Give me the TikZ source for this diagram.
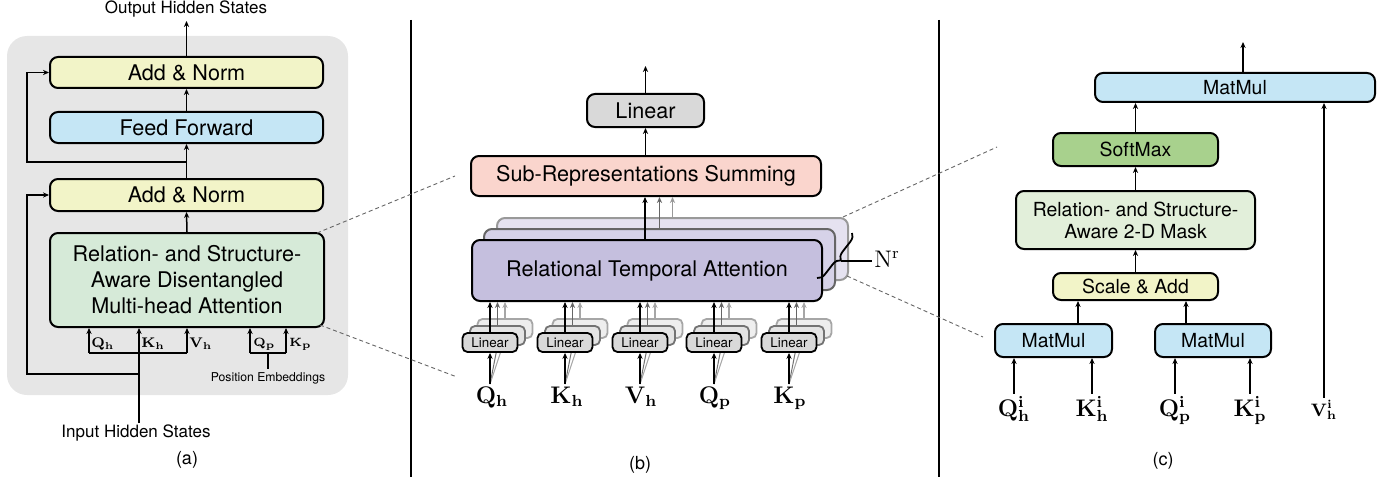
\documentclass[tikz,border=0pt]{standalone}
\usepackage[no-math]{fontspec}
\setmainfont{TeX Gyre Heros}
\usetikzlibrary{arrows.meta,decorations.pathreplacing,calc}
\pgfdeclarelayer{bg}
\pgfsetlayers{bg,main}
\definecolor{bggray}{RGB}{230,230,230}
\definecolor{cyellow}{RGB}{242,244,200}
\definecolor{cblue}{RGB}{197,230,245}
\definecolor{cgreen}{RGB}{214,234,216}
\definecolor{cgray}{RGB}{217,217,217}
\definecolor{cpink}{RGB}{250,213,205}
\definecolor{clav}{RGB}{197,191,222}
\definecolor{csoft}{RGB}{168,209,141}
\definecolor{cmask}{RGB}{226,239,218}
\tikzset{
  bx/.style={draw=black, line width=1pt, rounded corners=4pt, inner sep=0pt, align=center},
  sbx/.style={draw=black, line width=0.9pt, rounded corners=2.5pt, inner sep=0pt,
    minimum width=27.5pt, minimum height=9.5pt, font=\fontsize{6.7}{8}\selectfont},
  arr/.style={-{Stealth[length=3pt,width=2.6pt]}, line width=0.75pt},
  ln/.style={line width=0.75pt},
  dsh/.style={black!60, line width=0.45pt, dash pattern=on 2pt off 1.5pt},
  bigf/.style={font=\fontsize{10.8}{13}\selectfont},
  midf/.style={font=\fontsize{9.7}{11}\selectfont},
  captxt/.style={font=\fontsize{8.5}{10}\selectfont},
  tinylab/.style={font=\fontsize{7}{8}\selectfont, inner sep=0pt, anchor=base west},
  lab/.style={font=\fontsize{12}{14}\selectfont, inner sep=1pt, anchor=base},
  divider/.style={line width=1.2pt},
}
% style, name, x1, y1, x2, y2 (pixels), text
\newcommand\mkbox[7]{\node[#1, minimum width={(#5-#3)*0.5pt}, minimum height={(#6-#4)*0.5pt}] (#2) at ({(#3+#5)/2},{(#4+#6)/2}) {#7};}
\begin{document}
\begin{tikzpicture}[x=0.5pt,y=-0.5pt]
\useasboundingbox (0,0) rectangle (1396,481);

% ---------------- panel (a)
\mkbox{fill=bggray, rounded corners=10pt, inner sep=0pt}{bga}{7}{36}{348}{395}{}
\mkbox{bx, fill=cyellow, bigf}{an2}{50}{57}{323}{88}{Add \& Norm}
\mkbox{bx, fill=cblue, bigf}{ff}{50}{112}{323}{143}{Feed Forward}
\mkbox{bx, fill=cyellow, bigf}{an1}{50}{179}{323}{211}{Add \& Norm}
\mkbox{bx, fill=cgreen, bigf}{att}{50}{233}{324}{327}{Relation- and Structure-\\Aware Disentangled\\Multi-head Attention}

\node[captxt] (outt) at (186,9) {Output Hidden States};
\coordinate (outa) at (186.5,21);
\draw[arr] (an2.north) -- (outa);
\draw[arr] (ff.north) -- (an2.south);
\draw[arr] (an1.north) -- (ff.south);
\draw[arr] (att.north) -- (an1.south);

\coordinate (r1) at (186.5,162);
\draw[arr] (r1) -- (27,162) |- (an2.west);
\coordinate (r2) at (139,374);
\draw[arr] (r2) -- (27,374) |- (an1.west);

\node[captxt] (inp) at (136,433) {Input Hidden States};
\coordinate (inb) at (139,423);
\draw[arr] (inb) -- (inb |- att.south);
\coordinate (qa) at (89,353);
\coordinate (va) at (187,353);
\draw[ln] (qa) -- (va);
\draw[arr] (qa) -- (qa |- att.south);
\draw[arr] (va) -- (va |- att.south);

\coordinate (qpa) at (250,353);
\coordinate (kpa) at (286,353);
\coordinate (pst) at (268,353);
\node[font=\fontsize{6.1}{7}\selectfont, inner sep=0pt] (pe) at (268,378) {Position Embeddings};
\draw[ln] (qpa) -- (kpa);
\draw[ln] (pst) -- (268,369);
\draw[arr] (qpa) -- (qpa |- att.south);
\draw[arr] (kpa) -- (kpa |- att.south);

\node[tinylab] (lqa) at (91,347) {$\mathbf{Q}_{\mathbf{h}}$};
\node[tinylab] (lka) at (141,347) {$\mathbf{K}_{\mathbf{h}}$};
\node[tinylab] (lva) at (189,347) {$\mathbf{V}_{\mathbf{h}}$};
\node[tinylab, font=\fontsize{5.6}{7}\selectfont] (lqpa) at (253,346) {$\mathbf{Q}_{\mathbf{p}}$};
\node[tinylab, font=\fontsize{5.6}{7}\selectfont] (lkpa) at (289,346) {$\mathbf{K}_{\mathbf{p}}$};

\node[font=\fontsize{9}{10}\selectfont] (capa) at (187,460) {(a)};

% dividers
\coordinate (dv1t) at (411,20); \coordinate (dv1b) at (411,477);
\coordinate (dv2t) at (939,20); \coordinate (dv2b) at (939,477);
\draw[divider] (dv1t) -- (dv1b);
\draw[divider] (dv2t) -- (dv2b);

% ---------------- panel (b)
\mkbox{bx, fill=cgray, bigf}{lin}{587}{94}{704}{127}{Linear}
\coordinate (outb) at (645.5,66);
\draw[arr] (lin.north) -- (outb);
\mkbox{bx, fill=cpink, bigf}{srs}{471}{156}{821}{196}{Sub-Representations Summing}
\draw[arr] (srs.north -| lin.south) -- (lin.south);

\mkbox{bx, fill=clav!45, draw=black!40}{rta2}{497}{218}{848}{280}{}
\mkbox{bx, fill=clav!70, draw=black!60}{rta1}{484}{229}{835}{290}{}
\mkbox{bx, fill=clav, bigf}{rta}{472}{240}{822}{301}{Relational Temporal Attention}
\draw[arr] (rta.north -| 645,0) -- (srs.south -| 645,0);
\draw[arr, black!60] (rta1.north) -- (rta1.north |- srs.south);
\draw[arr, black!40] (rta2.north) -- (rta2.north |- srs.south);

\draw[line width=0.9pt, decorate, decoration={brace, amplitude=4pt}] (852,233) -- (817,278);
\coordinate (tip) at (841,261);
\node[font=\fontsize{11.5}{13}\selectfont, inner sep=1pt, anchor=west] (nr) at (872,259) {$\mathrm{N}^{\mathrm{r}}$};
\draw[line width=0.9pt] (tip) -- (nr.west |- tip);

\foreach \i/\cx/\lx/\lb in {1/490/492/{\mathbf{Q}_{\mathbf{h}}}, 2/565/567/{\mathbf{K}_{\mathbf{h}}}, 3/640/641/{\mathbf{V}_{\mathbf{h}}}, 4/714/715/{\mathbf{Q}_{\mathbf{p}}}, 5/789/790/{\mathbf{K}_{\mathbf{p}}}}{
  \node[sbx, fill=cgray!45, draw=black!35] (lbC\i) at (\cx+15,328.5) {};
  \node[sbx, fill=cgray!70, draw=black!55] (lbB\i) at (\cx+7.5,335.5) {};
  \node[sbx, fill=cgray] (lbA\i) at (\cx,342.5) {Linear};
  \node[lab] (in\i) at (\lx,403) {$\lb$};
  \draw[arr] (lbA\i.south |- in\i.north) -- (lbA\i.south);
  \begin{pgfonlayer}{bg}
    \draw[black!55, line width=0.5pt] (lbA\i.south |- in\i.north) -- (lbB\i.south);
    \draw[black!35, line width=0.5pt] (lbA\i.south |- in\i.north) -- (lbC\i.south);
  \end{pgfonlayer}
  \draw[arr] (lbA\i.north) -- (lbA\i.north |- rta.south);
  \draw[arr, black!60] (lbB\i.north) -- (lbB\i.north |- rta.south);
  \draw[arr, black!35] (lbC\i.north) -- (lbC\i.north |- rta.south);
}
\node[font=\fontsize{9}{10}\selectfont] (capb) at (640,465) {(b)};

% ---------------- panel (c)
\mkbox{bx, fill=cblue, midf}{mm}{1095}{73}{1375}{102}{MatMul}
\coordinate (outc) at (1243,42);
\draw[arr] (outc |- mm.north) -- (outc);
\mkbox{bx, fill=csoft, midf}{sm}{1053}{133}{1218}{166}{SoftMax}
\mkbox{bx, fill=cmask, midf}{mask}{1016}{191}{1255}{249}{Relation- and Structure-\\Aware 2-D Mask}
\mkbox{bx, fill=cyellow, midf}{sa}{1053}{273}{1218}{300}{Scale \& Add}
\mkbox{bx, fill=cblue, midf}{mml}{995}{324}{1112}{357}{MatMul}
\mkbox{bx, fill=cblue, midf}{mmr}{1155}{324}{1271}{357}{MatMul}
\draw[arr] (sm.north) -- (sm.north |- mm.south);
\draw[arr] (mask.north) -- (sm.south);
\draw[arr] (sa.north) -- (mask.south);
\coordinate (mlt) at (1078,324);
\coordinate (mrt) at (1186,324);
\draw[arr] (mlt) -- (mlt |- sa.south);
\draw[arr] (mrt) -- (mrt |- sa.south);

\node[lab] (qhi) at (1014,416) {$\mathbf{Q}^{\mathbf{i}}_{\mathbf{h}}$};
\node[lab] (khi) at (1092,416) {$\mathbf{K}^{\mathbf{i}}_{\mathbf{h}}$};
\node[lab] (qpi) at (1175,416) {$\mathbf{Q}^{\mathbf{i}}_{\mathbf{p}}$};
\node[lab] (kpi) at (1250,416) {$\mathbf{K}^{\mathbf{i}}_{\mathbf{p}}$};
\node[lab, font=\fontsize{9}{10}\selectfont] (vhi) at (1324,416) {$\mathbf{V}^{\mathbf{i}}_{\mathbf{h}}$};
\draw[arr] (qhi.north) -- (qhi.north |- mml.south);
\draw[arr] (khi.north) -- (khi.north |- mml.south);
\draw[arr] (qpi.north) -- (qpi.north |- mmr.south);
\draw[arr] (kpi.north) -- (kpi.north |- mmr.south);
\draw[arr] (vhi.north) -- (vhi.north |- mm.south);
\node[font=\fontsize{9}{10}\selectfont] (capc) at (1163,461) {(c)};

% ---------------- zoom guides
\coordinate (g1a) at (317,233); \coordinate (g1b) at (455,176);
\coordinate (g2a) at (320,325); \coordinate (g2b) at (457,377);
\coordinate (g3a) at (843,217); \coordinate (g3b) at (997,147);
\coordinate (g4a) at (847,276); \coordinate (g4b) at (983,337);
\draw[dsh] (g1a) -- (g1b);
\draw[dsh] (g2a) -- (g2b);
\draw[dsh] (g3a) -- (g3b);
\draw[dsh] (g4a) -- (g4b);
\end{tikzpicture}
\end{document}
